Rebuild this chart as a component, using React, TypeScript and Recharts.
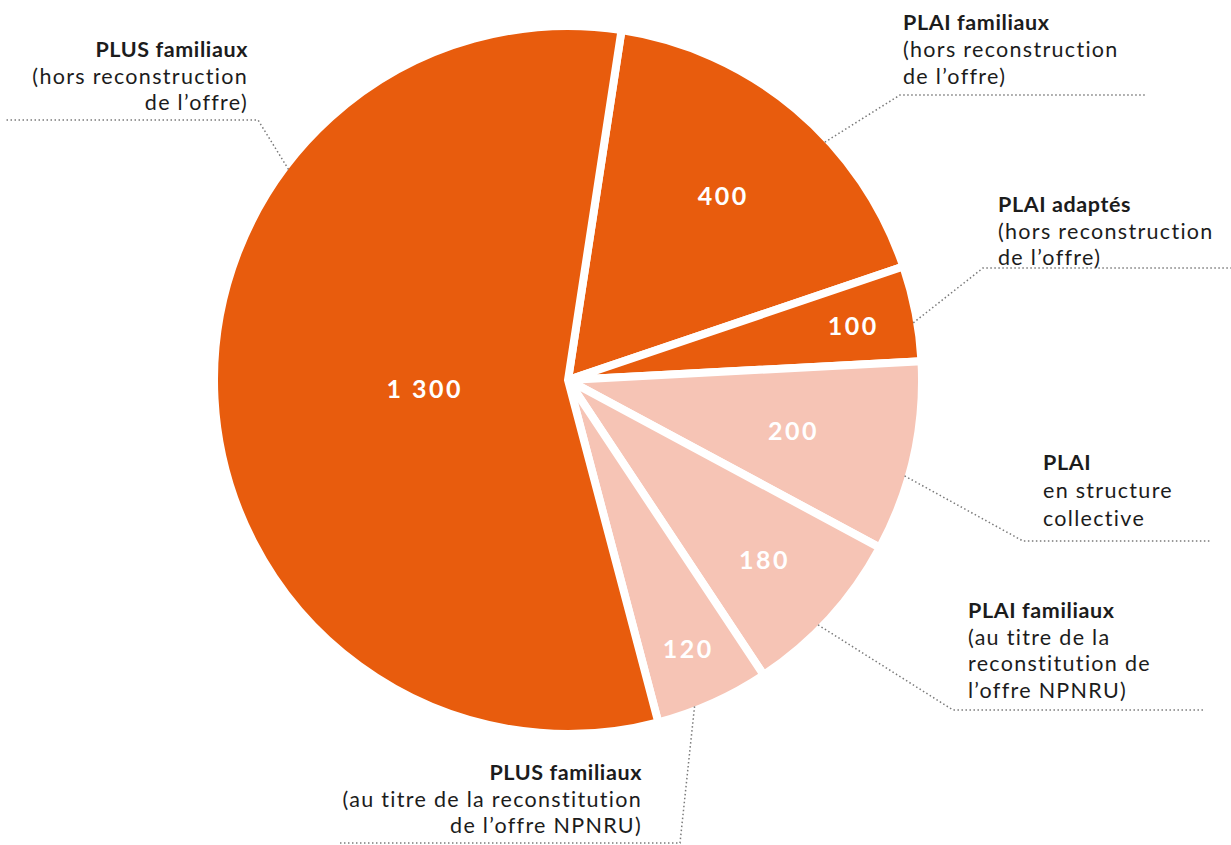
import { PieChart, Pie, Cell } from "recharts";

// slices, clockwise from the top
const titles = [
  "PLAI familiaux",
  "PLAI adaptés",
  "PLAI",
  "PLAI familiaux",
  "PLUS familiaux",
  "PLUS familiaux",
];
const subtitles = [
  ["(hors reconstruction", "de l’offre)"],
  ["(hors reconstruction", "de l’offre)"],
  ["en structure", "collective"],
  ["(au titre de la", "reconstitution de", "l’offre NPNRU)"],
  ["(au titre de la reconstitution", "de l’offre NPNRU)"],
  ["(hors reconstruction", "de l’offre)"],
];
const values = [400, 100, 200, 180, 120, 1300];
const valueLabels = ["400", "100", "200", "180", "120", "1 300"];
const groups = ["hors", "hors", "reconst", "reconst", "reconst", "hors"];

const COLORS: Record<string, string> = { hors: "#E85C0D", reconst: "#F6C4B5" };
const FONT = "Lato, 'Open Sans', sans-serif";

const data = values.map((v, i) => ({ name: titles[i], value: v, group: groups[i] }));

// label layout (offsets from the pie centre)
const valueRadius = [0.69, 0.83, 0.66, 0.76, 0.84, 0.41];
const leaderAngle = [42.8, 9.4, -15.9, -44.4, -68.8, 143];
const elbow = [
  [332, -285],
  [415, -112],
  [455, 161],
  [385, 330],
  [112, 463],
  [-310, -260],
];
const lineEnd = [579, 663, 642, 635, -228, -563];
const textX = [335, 430, 475, 400, 74, -320];
const firstBaseline = [-350, -168, 90, 238, 400, -323];
const lineGap = [27, 26.5, 28, 26.5, 26.5, 26.5];

function renderLabel(props: any) {
  const { cx, cy, midAngle, outerRadius, index } = props;
  const RAD = Math.PI / 180;
  const R = outerRadius - 4;
  const vr = R * valueRadius[index];
  const vx = cx + vr * Math.cos(-midAngle * RAD);
  const vy = cy + vr * Math.sin(-midAngle * RAD);
  const la = leaderAngle[index];
  const sx = cx + R * Math.cos(-la * RAD);
  const sy = cy + R * Math.sin(-la * RAD);
  const ex = cx + elbow[index][0];
  const ey = cy + elbow[index][1];
  const endX = cx + lineEnd[index];
  const anchor = lineEnd[index] < elbow[index][0] ? "end" : "start";
  const tx = cx + textX[index];
  const ty = cy + firstBaseline[index];
  const lines = [titles[index], ...subtitles[index]];
  return (
    <g key={`lbl-${index}`}>
      <text
        x={vx}
        y={vy}
        textAnchor="middle"
        dominantBaseline="central"
        fill="#fff"
        fontFamily={FONT}
        fontWeight={700}
        fontSize={25}
        letterSpacing={2.5}
      >
        {valueLabels[index]}
      </text>
      <polyline
        points={`${sx},${sy} ${ex},${ey} ${endX},${ey}`}
        fill="none"
        stroke="#7a7a7a"
        strokeWidth={1.5}
        strokeDasharray="1.5 2.5"
      />
      {lines.map((t, k) => (
        <text
          key={k}
          x={tx}
          y={ty + k * lineGap[index]}
          textAnchor={anchor}
          fill="#1c1c1c"
          fontFamily={FONT}
          fontWeight={k === 0 ? 700 : 400}
          fontSize={21.5}
          letterSpacing={k === 0 ? 0.6 : 1.3}
        >
          {t}
        </text>
      ))}
    </g>
  );
}

export default function App() {
  return (
    <div style={{ position: "absolute", left: 0, top: 0, width: 1231, height: 845, background: "#fff" }}>
      <PieChart width={1231} height={845} margin={{ top: 0, right: 0, bottom: 0, left: 0 }}>
        <Pie
          data={data}
          dataKey="value"
          nameKey="name"
          cx={568}
          cy={380}
          outerRadius={354}
          startAngle={81.3}
          endAngle={-278.7}
          stroke="#fff"
          strokeWidth={8}
          label={renderLabel}
          labelLine={false}
          isAnimationActive={false}
        >
          {data.map((d, i) => (
            <Cell key={i} fill={COLORS[d.group]} />
          ))}
        </Pie>
      </PieChart>
    </div>
  );
}
